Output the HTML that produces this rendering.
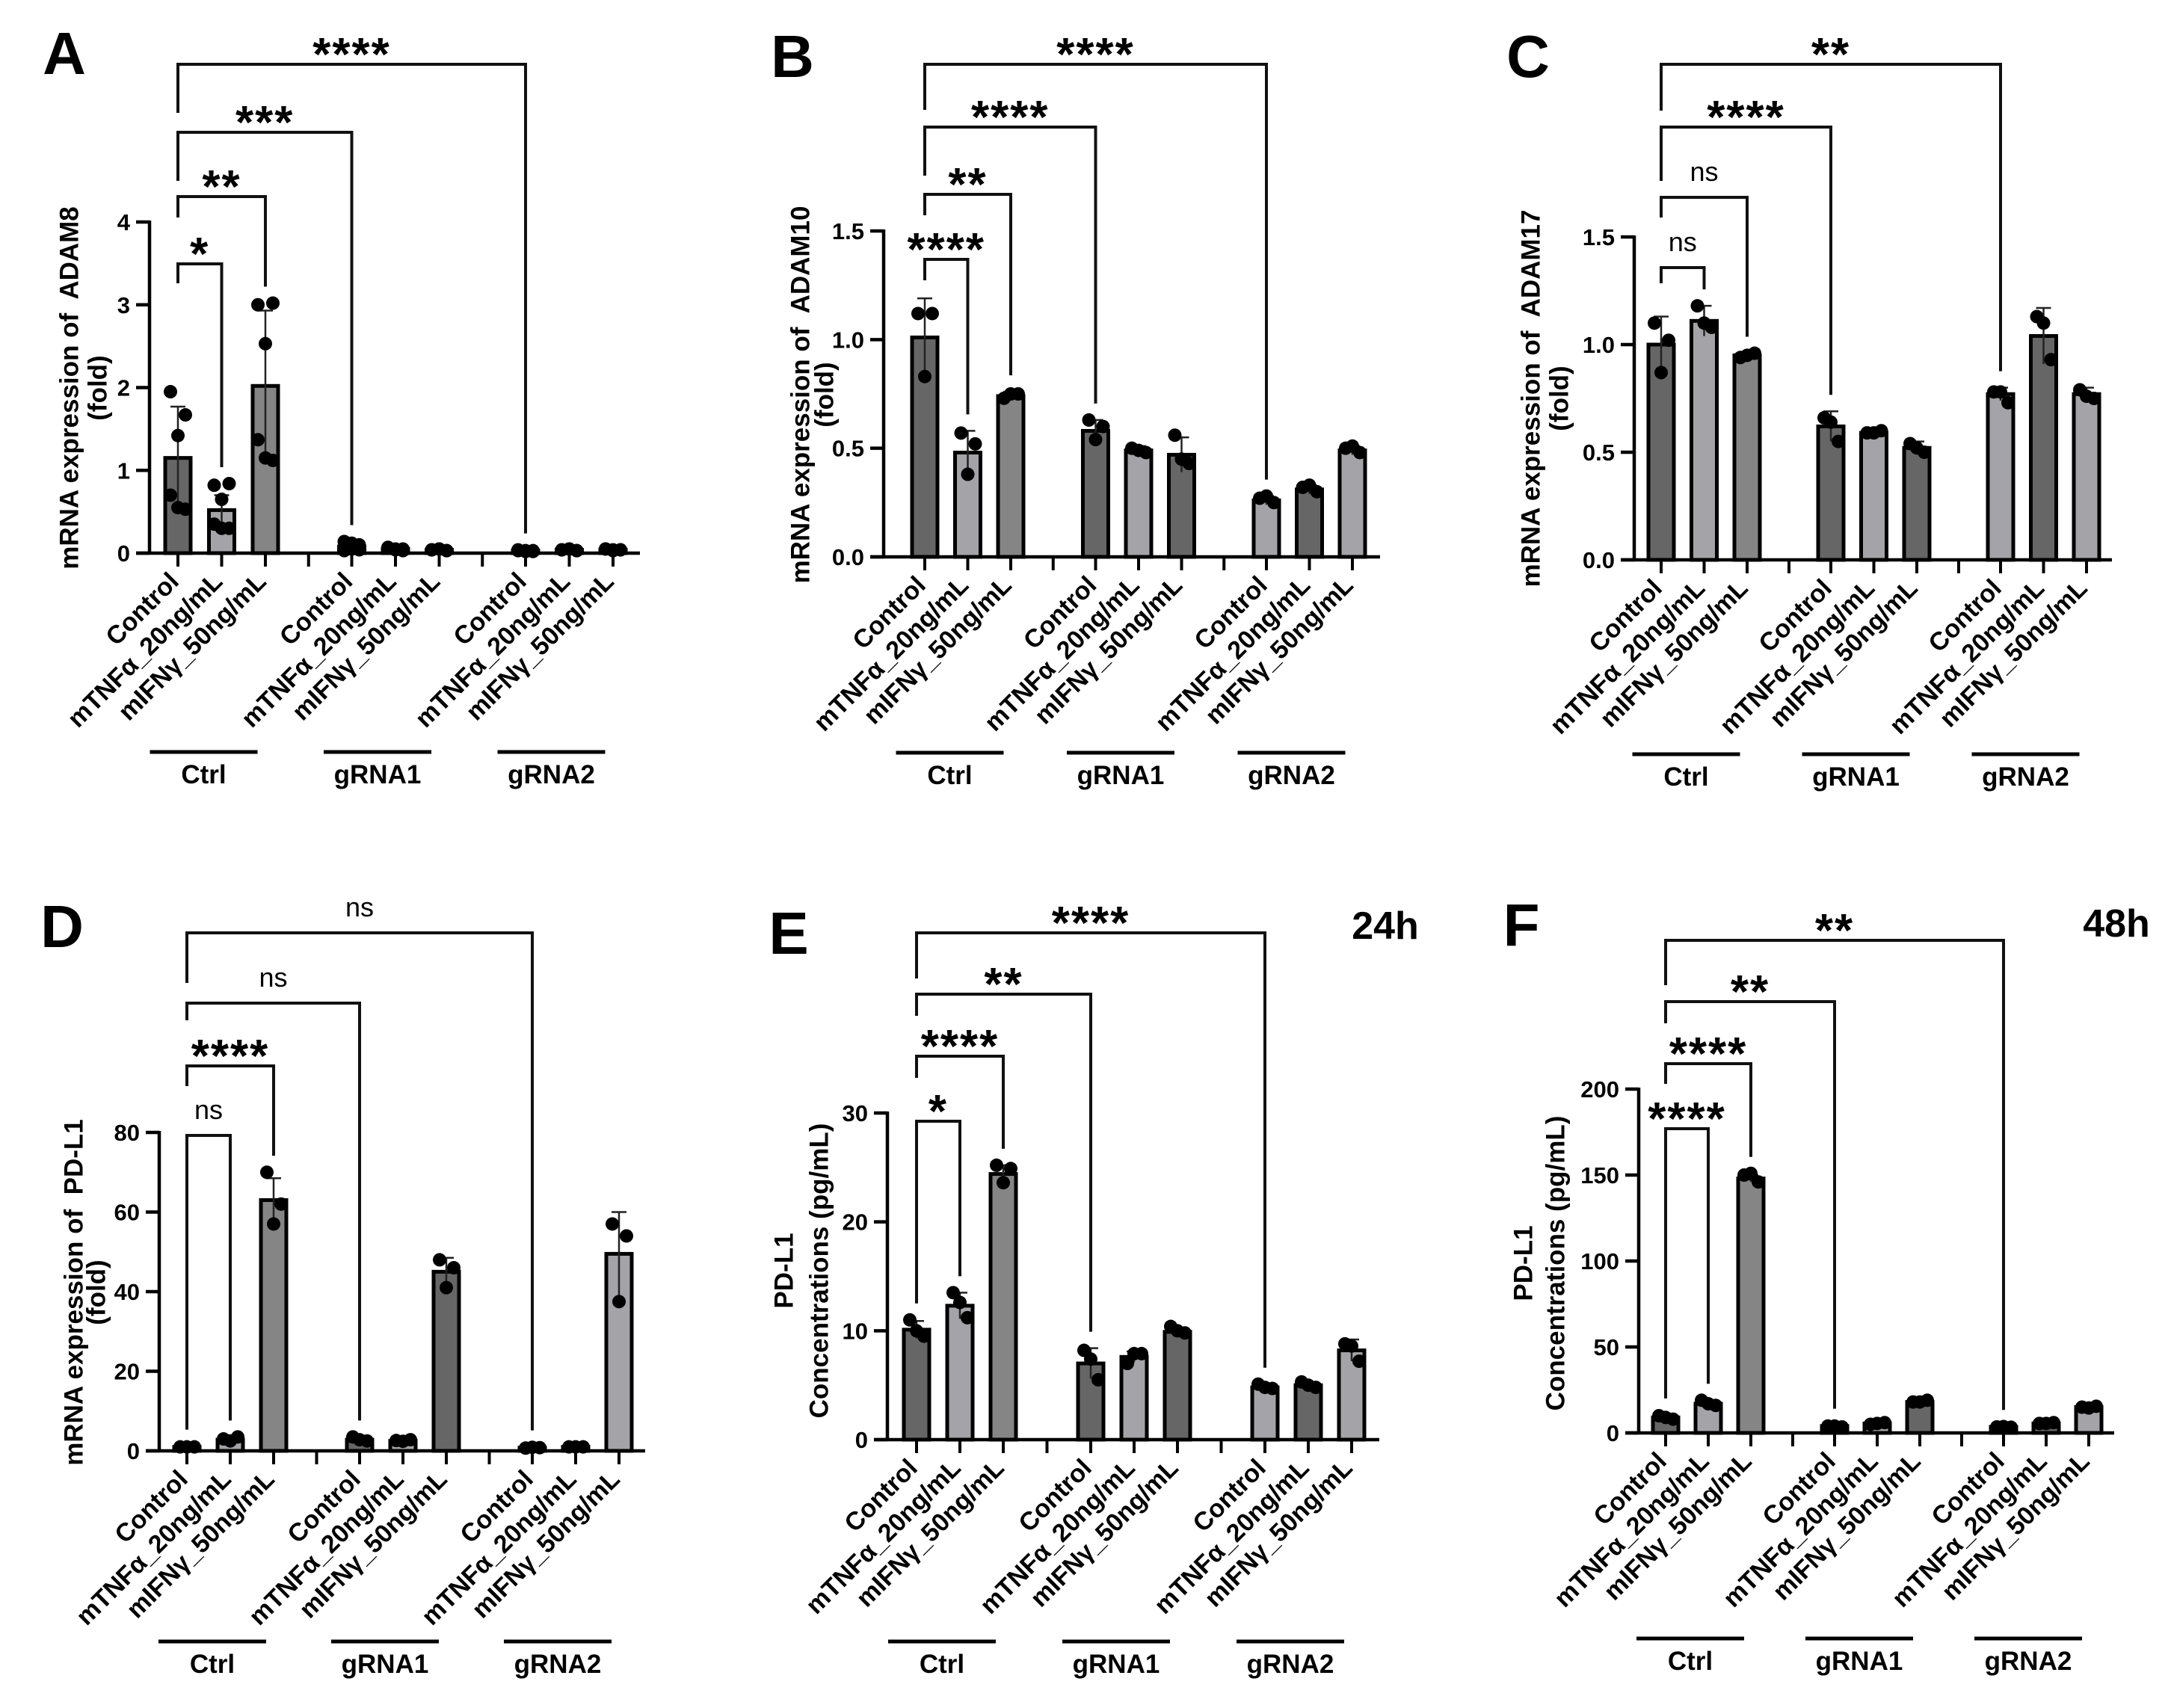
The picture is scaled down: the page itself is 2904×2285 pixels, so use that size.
<!DOCTYPE html>
<html><head><meta charset="utf-8"><title>ADAM / PD-L1 bar charts</title>
<style>
html,body{margin:0;padding:0;background:#fff;}
svg text{font-family:"Liberation Sans",Arial,sans-serif;white-space:pre;}
</style></head>
<body>
<svg id="fig" width="2904" height="2280" viewBox="0 0 2904 2280" xmlns="http://www.w3.org/2000/svg"></svg>
<script>
// ---------- data ----------
const categories = ["Control","mTNFα_20ng/mL","mIFNγ_50ng/mL","Control","mTNFα_20ng/mL","mIFNγ_50ng/mL","Control","mTNFα_20ng/mL","mIFNγ_50ng/mL"];
const groupNames = ["Ctrl","gRNA1","gRNA2"];

const meansA = [1.15,0.52,2.02,0.08,0.05,0.04,0.03,0.04,0.04];
const sdA    = [0.62,0.18,0.91,0.03,0.02,0.02,0.01,0.01,0.01];
const pointsA = [[1.95,1.67,1.42,0.7,0.53,0.55],[0.82,0.84,0.65,0.35,0.3,0.3],[3.0,3.02,2.53,1.37,1.12,1.15],[0.14,0.1,0.05,0.03,0.04,0.12],[0.07,0.05,0.04,0.06,0.03,0.05],[0.04,0.03,0.05,0.04,0.03,0.05],[0.03,0.02,0.03,0.04,0.03,0.02],[0.04,0.03,0.05,0.04,0.03,0.05],[0.05,0.04,0.03,0.05,0.04,0.04]];
const ticksA = [0,1,2,3,4];
const tickLabelsA = ["0","1","2","3","4"];

const meansB = [1.01,0.48,0.74,0.58,0.49,0.47,0.26,0.31,0.49];
const sdB    = [0.18,0.10,0.02,0.05,0.02,0.08,0.02,0.02,0.02];
const pointsB = [[1.12,1.12,0.83],[0.57,0.52,0.38],[0.73,0.75,0.75],[0.63,0.6,0.54],[0.5,0.48,0.49],[0.56,0.43,0.45],[0.27,0.25,0.28],[0.32,0.3,0.33],[0.5,0.48,0.51]];
const ticksB = [0,0.5,1,1.5];
const tickLabelsB = ["0.0","0.5","1.0","1.5"];

const meansC = [1.0,1.11,0.95,0.62,0.59,0.52,0.77,1.04,0.77];
const sdC    = [0.13,0.07,0.01,0.07,0.01,0.03,0.03,0.13,0.03];
const pointsC = [[1.1,1.02,0.87],[1.18,1.08,1.1],[0.94,0.96,0.95],[0.66,0.55,0.64],[0.59,0.6,0.59],[0.54,0.5,0.52],[0.78,0.73,0.78],[1.13,0.93,1.1],[0.79,0.75,0.76]];
const ticksC = [0,0.5,1,1.5];
const tickLabelsC = ["0.0","0.5","1.0","1.5"];

const meansD = [1,2.8,63,2.8,2.5,45,0.8,1,49.5];
const sdD    = [0.2,0.5,5.5,0.6,0.3,3.5,0.2,0.2,10.5];
const pointsD = [[1,1,1],[3,3.5,2.5],[70,62,57],[3.5,2.5,2.8],[2.6,2.8,2.4],[48,46,41],[0.7,0.8,0.9],[1,1,1],[57,54,37.5]];
const ticksD = [0,20,40,60,80];
const tickLabelsD = ["0","20","40","60","80"];

const meansE = [10.1,12.3,24.4,7,7.6,9.9,4.8,5,8.2];
const sdE    = [0.8,1.2,0.8,1.4,0.5,0.4,0.3,0.3,1];
const pointsE = [[11,9.5,10],[13.5,11.2,12.6],[25.2,24.9,23.6],[8.2,5.5,7.4],[7,7.9,7.9],[10.4,9.8,10],[5.1,4.7,4.8],[5.3,4.8,5],[8.8,7.2,8.6]];
const ticksE = [0,10,20,30];
const tickLabelsE = ["0","10","20","30"];

const meansF = [9,17,148,4,5.5,18,3.5,5.5,15];
const sdF    = [1.5,2,2,0.5,0.5,1,0.3,0.5,1];
const pointsF = [[10,8,9],[19,16,17],[150,146,151],[4,3.5,4],[5,6,5.5],[18,19,18],[3.5,3.3,3.7],[5.5,6,5.5],[15,15.5,14.5]];
const ticksF = [0,50,100,150,200];
const tickLabelsF = ["0","50","100","150","200"];

const sigLabelsA = ["****","***","**","*"];
const sigLabelsB = ["****","****","**","****"];
const sigLabelsC = ["**","****","ns","ns"];
const sigLabelsD = ["ns","ns","****","ns"];
const sigLabelsE = ["****","**","****","*"];
const sigLabelsF = ["**","**","****","****"];
const sigTargets = [6,3,2,1];

// ---------- layout (pixels; not data) ----------
const fills = ["#666666","#a4a4a8","#858585","#666666","#a4a4a8","#666666","#a4a4a8","#666666","#a4a4a8"];
const panels = [
 {id:"a",letter:"A",lx:86,ly:99,ax:200,y0:740,yTopPx:297,yMax:4,xEnd:856,x0:238,dx:58.5,gdx:232.5,
  means:meansA,sd:sdA,pts:pointsA,ticks:ticksA,tl:tickLabelsA,sig:sigLabelsA,
  brY:[86,177,263,353],brL:[65,65,28,26],gl:1006,title:["mRNA expression of  ADAM8","(fold)"],tx:[93,131],ty:519},
 {id:"b",letter:"B",lx:1060,ly:103,ax:1182,y0:745,yTopPx:309,yMax:1.5,xEnd:1846,x0:1237,dx:57.5,gdx:228.5,
  means:meansB,sd:sdB,pts:pointsB,ticks:ticksB,tl:tickLabelsB,sig:sigLabelsB,
  brY:[86,170,260,347],brL:[61,65,28,28],gl:1007,title:["mRNA expression of  ADAM10","(fold)"],tx:[1071,1103],ty:528},
 {id:"c",letter:"C",lx:2044,ly:103,ax:2186,y0:749,yTopPx:317,yMax:1.5,xEnd:2825,x0:2222,dx:57.5,gdx:227,
  means:meansC,sd:sdC,pts:pointsC,ticks:ticksC,tl:tickLabelsC,sig:sigLabelsC,
  brY:[86,170,264,358],brL:[62,72,27,21],gl:1009,title:["mRNA expression of  ADAM17","(fold)"],tx:[2048,2086],ty:533},
 {id:"d",letter:"D",lx:83,ly:1267,ax:213,y0:1941,yTopPx:1515,yMax:80,xEnd:863,x0:250,dx:58,gdx:231,
  means:meansD,sd:sdD,pts:pointsD,ticks:ticksD,tl:tickLabelsD,sig:sigLabelsD,
  brY:[1248,1342,1426,1519],brL:[67,23,27,-1],gl:2196,title:["mRNA expression of  PD-L1","(fold)"],tx:[99,129],ty:1729},
 {id:"e",letter:"E",lx:1055,ly:1276,ax:1187,y0:1926,yTopPx:1489,yMax:30,xEnd:1845,x0:1226,dx:58,gdx:233,
  means:meansE,sd:sdE,pts:pointsE,ticks:ticksE,tl:tickLabelsE,sig:sigLabelsE,
  brY:[1248,1330,1413,1500],brL:[61,29,29,-1],gl:2196,title:["PD-L1","Concentrations (pg/mL)"],tx:[1049,1096],ty:1700,
  time:"24h",timeX:1853,timeY:1256},
 {id:"f",letter:"F",lx:2035,ly:1265,ax:2192,y0:1917,yTopPx:1457,yMax:200,xEnd:2828,x0:2228,dx:57,gdx:226,
  means:meansF,sd:sdF,pts:pointsF,ticks:ticksF,tl:tickLabelsF,sig:sigLabelsF,
  brY:[1258,1340,1423,1510],brL:[60,29,27,-1],gl:2192,title:["PD-L1","Concentrations (pg/mL)"],tx:[2038,2081],ty:1690,
  time:"48h",timeX:2831,timeY:1253}
];

const NS = "http://www.w3.org/2000/svg";
const svg = document.getElementById("fig");
function mk(tag, attrs, parent){
  const e = document.createElementNS(NS, tag);
  for (const k in attrs) e.setAttribute(k, attrs[k]);
  (parent||svg).appendChild(e);
  return e;
}
const jit3 = [-9,10,0];
const jit6 = [-10,10,0,-10,10,0];

panels.forEach(p => {
  const g = mk("g", {});
  
  
  const yScale = v => p.y0 - (v / p.yMax) * (p.y0 - p.yTopPx);
  const xPos = i => p.x0 + Math.floor(i/3)*p.gdx + (i%3)*p.dx;

  const L = mk("text", {x:p.lx, y:p.ly, "text-anchor":"middle", "font-size":80, "font-weight":"bold", fill:"#000"}, g);
  L.textContent = p.letter;
  
  

  if (p.time){
    const t = mk("text", {x:p.timeX, y:p.timeY, "text-anchor":"middle", "font-size":52, "font-weight":"bold"}, g);
    t.textContent = p.time;
    
    
  }

  p.title.forEach((line, k) => {
    const t = mk("text", {x:p.tx[k], y:p.ty, "text-anchor":"middle", "dominant-baseline":"central", "font-size":35, "font-weight":"bold",
      transform:`rotate(-90 ${p.tx[k]} ${p.ty})`}, g);
    t.textContent = line;
    
    
  });

  p.means.forEach((m, i) => {
    const cx = xPos(i), yt = yScale(m);
    const r = mk("rect", {x:cx-17, y:yt, width:34, height:Math.max(0,p.y0-yt), fill:fills[i], stroke:"#000", "stroke-width":5}, g);
    
    
  });
  p.means.forEach((m, i) => {
    const cx = xPos(i);
    const yTop = yScale(m + p.sd[i]), yBot = yScale(Math.max(0, m - p.sd[i]));
    const e = mk("path", {d:`M${cx} ${yBot} V${yTop} M${cx-10} ${yTop} H${cx+10}`, stroke:"#222", "stroke-width":2.5, fill:"none"}, g);
    
    
  });
  p.pts.forEach((arr, i) => {
    const cx = xPos(i);
    const jit = arr.length > 3 ? jit6 : jit3;
    arr.forEach((v, k) => {
      const c = mk("circle", {cx:cx + jit[k], cy:yScale(v), r:9, fill:"#000"}, g);
      
      
    });
  });

  const ya = mk("line", {x1:p.ax, y1:p.yTopPx-2, x2:p.ax, y2:p.y0+2, stroke:"#000", "stroke-width":4.5}, g);
  
  
  const xa = mk("line", {x1:p.ax-18, y1:p.y0, x2:p.xEnd, y2:p.y0, stroke:"#000", "stroke-width":4.5}, g);
  
  
  p.ticks.forEach((v, k) => {
    const y = yScale(v);
    mk("line", {x1:p.ax-18, y1:y, x2:p.ax, y2:y, stroke:"#000", "stroke-width":4.5}, g);
    const t = mk("text", {x:p.ax-26, y:y+11, "text-anchor":"end", "font-size":31, "font-weight":"bold"}, g);
    t.textContent = p.tl[k];
    
    
  });
  categories.forEach((c, i) => {
    const cx = xPos(i);
    mk("line", {x1:cx, y1:p.y0, x2:cx, y2:p.y0+18, stroke:"#000", "stroke-width":4}, g);
    const tx = cx + 3, ty = p.y0 + 40;
    const t = mk("text", {x:tx, y:ty, "text-anchor":"end", "font-size":34, "font-weight":"bold", transform:`rotate(-45 ${tx} ${ty})`}, g);
    t.textContent = c;
    
    
  });
  [0,1].forEach(k => {
    const gx = (xPos(k*3+2) + xPos(k*3+3)) / 2;
    mk("line", {x1:gx, y1:p.y0, x2:gx, y2:p.y0+18, stroke:"#000", "stroke-width":4}, g);
  });
  groupNames.forEach((n, k) => {
    const cx = xPos(k*3+1) - 24;
    const ln = mk("line", {x1:cx-72, y1:p.gl, x2:cx+72, y2:p.gl, stroke:"#000", "stroke-width":5}, g);
    
    
    const t = mk("text", {x:cx, y:p.gl+42, "text-anchor":"middle", "font-size":35, "font-weight":"bold"}, g);
    t.textContent = n;
    
    
  });
  sigTargets.forEach((ti, k) => {
    const x1 = xPos(0), x2 = xPos(ti), y = p.brY[k];
    const topOf = i => yScale(Math.max(p.means[i] + p.sd[i], ...p.pts[i]));
    const rightBot = topOf(ti) - 22;
    const leftBot = p.brL[k] < 0 ? topOf(0) - 22 : y + p.brL[k];
    const br = mk("path", {d:`M${x1} ${leftBot} V${y} H${x2} V${rightBot}`, stroke:"#111", "stroke-width":4, fill:"none"}, g);
    
    
    const lab = p.sig[k];
    const mid = (x1 + x2) / 2;
    let t;
    if (lab === "ns") {
      t = mk("text", {x:mid, y:y-22, "text-anchor":"middle", "font-size":36}, g);
    } else {
      t = mk("text", {x:mid, y:y+8, "text-anchor":"middle", "font-size":62, "font-weight":"bold", "letter-spacing":2}, g);
    }
    t.textContent = lab;
    
    
  });
});
</script>
</body></html>
